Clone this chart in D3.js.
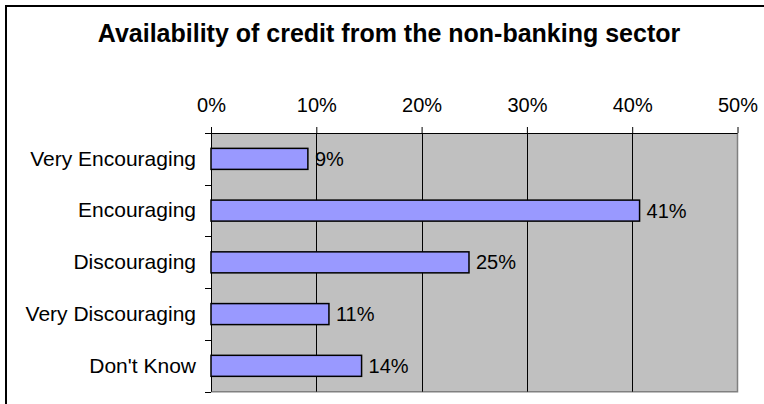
<!DOCTYPE html>
<html>
<head>
<meta charset="utf-8">
<script src="https://cdn.jsdelivr.net/npm/d3@7/dist/d3.min.js"></script>
<style>
  body { margin: 0; background: #fff; }
  text { font-family: "Liberation Sans", Arial, sans-serif; fill: #000; }
  .axis path { display: none; }
  .axis text { font-size: 20px; }
  .yaxis text { font-size: 21px; }
</style>
</head>
<body>
<script>
var categories = ["Very Encouraging", "Encouraging", "Discouraging", "Very Discouraging", "Don't Know"];
var values = [0.092, 0.407, 0.245, 0.112, 0.143];
var valueLabels = ["9%", "41%", "25%", "11%", "14%"];
var xTicks = [0, 0.1, 0.2, 0.3, 0.4, 0.5];

var W = 764, H = 404;
var plot = { l: 211, r: 737.5, t: 133, b: 391.7 };

var svg = d3.select("body").append("svg")
  .attr("width", W)
  .attr("height", H);

// outer chart frame (runs off the picture right and bottom)
svg.append("rect")
  .attr("x", 6).attr("y", 6)
  .attr("width", 900).attr("height", 600)
  .attr("fill", "#fff")
  .attr("stroke", "#000")
  .attr("stroke-width", 2);

svg.append("text")
  .attr("x", 389)
  .attr("y", 42)
  .attr("text-anchor", "middle")
  .style("font-size", "25px")
  .style("font-weight", "bold")
  .text("Availability of credit from the non-banking sector");

var x = d3.scaleLinear().domain([0, 0.5]).range([plot.l, plot.r]);
var p = 0.594;
var y = d3.scaleBand().domain(categories)
  .range([plot.t, plot.b])
  .paddingInner(p)
  .paddingOuter(p / 2);

// plot area
svg.append("rect")
  .attr("x", plot.l).attr("y", plot.t)
  .attr("width", plot.r - plot.l).attr("height", plot.b - plot.t)
  .attr("fill", "#c0c0c0");

// right and bottom plot border
svg.append("path")
  .attr("d", "M" + plot.r + "," + plot.t + "V" + plot.b + "H" + plot.l)
  .attr("fill", "none")
  .attr("stroke", "#808080")
  .attr("stroke-width", 1.5);

// gridlines
svg.selectAll(".grid")
  .data(xTicks.slice(1, -1))
  .enter().append("line")
  .attr("class", "grid")
  .attr("x1", function(d) { return Math.round(x(d)) + 0.5; })
  .attr("x2", function(d) { return Math.round(x(d)) + 0.5; })
  .attr("y1", plot.t)
  .attr("y2", plot.b)
  .attr("stroke", "#000");

// top axis
var xAxis = d3.axisTop(x)
  .tickValues(xTicks)
  .tickFormat(d3.format(".0%"))
  .tickSize(6)
  .tickPadding(15);

var gx = svg.append("g")
  .attr("class", "axis")
  .attr("transform", "translate(0," + plot.t + ")")
  .call(xAxis);
gx.selectAll("line").attr("stroke", "#000");
svg.append("line")
  .attr("x1", plot.l).attr("x2", plot.r)
  .attr("y1", plot.t + 0.5).attr("y2", plot.t + 0.5)
  .attr("stroke", "#000");

// left axis labels
var yAxis = d3.axisLeft(y).tickSize(0).tickPadding(15);
svg.append("g")
  .attr("class", "axis yaxis")
  .attr("transform", "translate(" + plot.l + ",0)")
  .call(yAxis);

// left axis line + category separators
svg.append("line")
  .attr("x1", plot.l + 0.5).attr("x2", plot.l + 0.5)
  .attr("y1", plot.t - 6).attr("y2", plot.b)
  .attr("stroke", "#000");

var bounds = categories.map(function(c) { return y(c) - y.step() * p / 2; });
bounds.push(plot.b);
svg.selectAll(".ytick")
  .data(bounds)
  .enter().append("line")
  .attr("class", "ytick")
  .attr("x1", plot.l - 6).attr("x2", plot.l)
  .attr("y1", function(d) { return Math.round(d) + 0.5; })
  .attr("y2", function(d) { return Math.round(d) + 0.5; })
  .attr("stroke", "#000");

// bars
svg.selectAll(".bar")
  .data(values)
  .enter().append("rect")
  .attr("class", "bar")
  .attr("x", x(0))
  .attr("y", function(d, i) { return y(categories[i]); })
  .attr("width", function(d) { return x(d) - x(0); })
  .attr("height", y.bandwidth())
  .attr("fill", "#9999ff")
  .attr("stroke", "#000")
  .attr("stroke-width", 1.5);

svg.selectAll(".vlabel")
  .data(values)
  .enter().append("text")
  .attr("class", "vlabel")
  .attr("x", function(d) { return x(d) + 7; })
  .attr("y", function(d, i) { return y(categories[i]) + y.bandwidth() / 2; })
  .attr("dy", "0.35em")
  .style("font-size", "20px")
  .text(function(d, i) { return valueLabels[i]; });
</script>
</body>
</html>
